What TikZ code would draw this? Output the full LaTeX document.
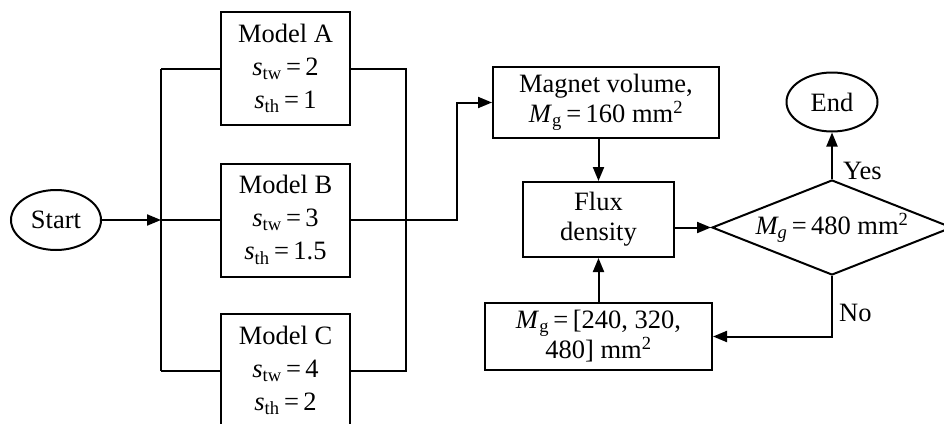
\documentclass[tikz,border=0pt]{standalone}
\usepackage{fontspec}
\setmainfont{Liberation Serif}
\usetikzlibrary{shapes.geometric,arrows.meta}
\begin{document}
\begin{tikzpicture}[x=1pt,y=-1pt,
  every node/.style={font=\fontsize{26.5}{30}\selectfont},
  box/.style={draw,line width=2pt,inner sep=0pt,align=center},
  modelbox/.style={box,minimum width=129pt,minimum height=113pt,font=\fontsize{26.5}{33}\selectfont},
  oval/.style={draw,ellipse,line width=2pt,inner sep=0pt},
  conn/.style={line width=2pt},
  arr/.style={conn,-{Triangle[length=14pt,width=11pt]}}]
\useasboundingbox (0,0) rectangle (944,423);
\clip (0,0) rectangle (944,423);
\node[oval,minimum width=90pt,minimum height=60pt] (start) at (56,220) {Start};
\node[modelbox] (A) at (285.5,68.5) {Model A\\\textit{s}\textsubscript{tw}\,=\,2\\\textit{s}\textsubscript{th}\,=\,1};
\node[modelbox] (B) at (285.5,220) {Model B\\\textit{s}\textsubscript{tw}\,=\,3\\\textit{s}\textsubscript{th}\,=\,1.5};
\node[modelbox] (C) at (285.5,370.5) {Model C\\\textit{s}\textsubscript{tw}\,=\,4\\\textit{s}\textsubscript{th}\,=\,2};
\coordinate (jl) at (161,220);
\coordinate (jr) at (406,220);
\coordinate (up) at (457,220);
\node[box,minimum width=226pt,minimum height=71pt] (mag) at (606,102.5) {Magnet volume,\\\textit{M}\textsubscript{g}\,=\,160 mm\textsuperscript{2}};
\node[box,minimum width=151pt,minimum height=75pt] (flux) at (598.5,219.5) {Flux\\density};
\node[box,minimum width=227pt,minimum height=67pt,font=\fontsize{26.5}{29}\selectfont] (mg) at (598.5,336.5) {\textit{M}\textsubscript{g}\,=\,[240, 320,\\480] mm\textsuperscript{2}};
\node[draw,diamond,aspect=2.53,line width=2pt,inner sep=0pt,minimum width=240pt,minimum height=95pt] (dec) at (832,227.5) {\textit{M\textsubscript{g}}\,=\,480 mm\textsuperscript{2}};
\node[oval,minimum width=91pt,minimum height=59pt] (end) at (832,102) {End};
% connectors
\draw[arr] (start.east) -- (jl);
\draw[conn] (A.west -| jl) -- (C.west -| jl);
\draw[conn] (A.west -| jl) -- (A.west);
\draw[conn] (jl) -- (B.west);
\draw[conn] (C.west -| jl) -- (C.west);
\draw[conn] (A.east) -- (A.east -| jr) -- (C.east -| jr) -- (C.east);
\draw[arr] (B.east) -- (up) |- (mag.west);
\draw[arr] (flux.north |- mag.south) -- (flux.north);
\draw[arr] (dec.west -| flux.east) -- (dec.west);
\draw[arr] (mg.north) -- (flux.south);
\draw[arr] (dec.north) -- (end.south);
\draw[arr] (dec.south) |- (mg.east);
\node[anchor=west,inner sep=0pt] (yes) at (843,171) {Yes};
\node[anchor=west,inner sep=0pt] (no) at (839,313) {No};
\end{tikzpicture}
\end{document}
